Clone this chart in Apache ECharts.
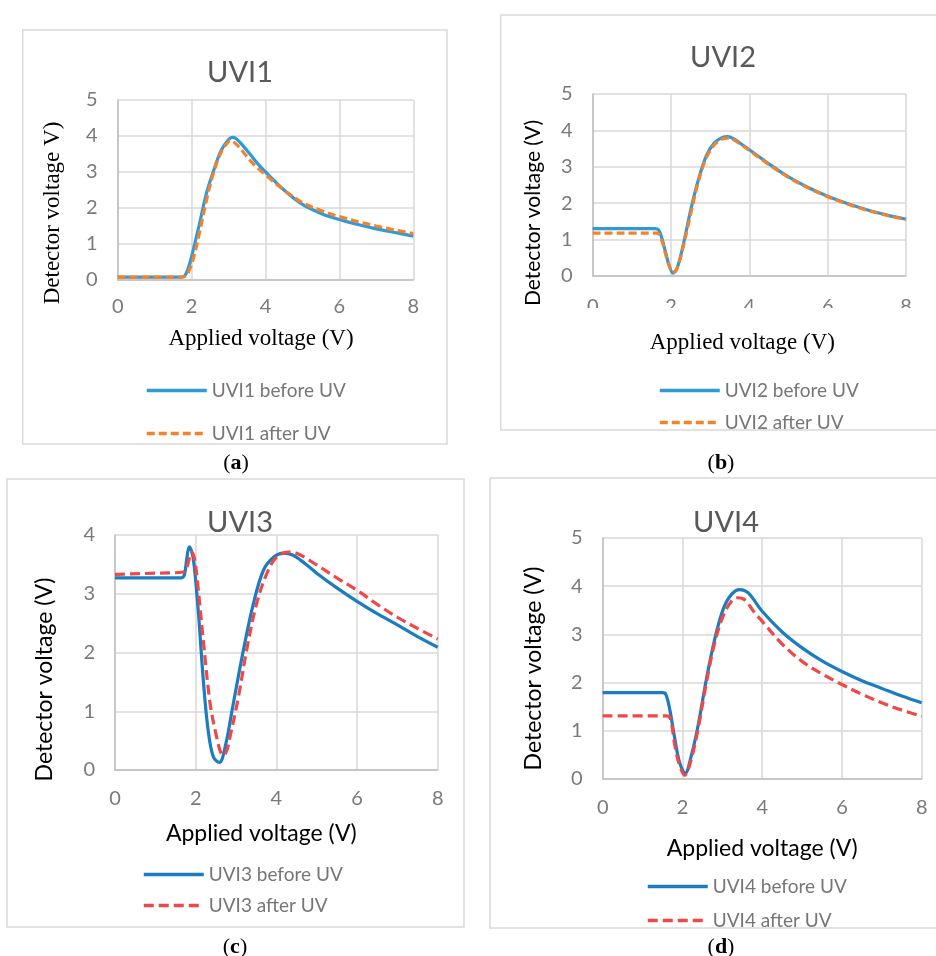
<!DOCTYPE html>
<html>
<head>
<meta charset="utf-8">
<script src="https://cdn.jsdelivr.net/npm/echarts@6/dist/echarts.min.js"></script>
<style>
  html, body { margin: 0; padding: 0; background: #fff; }
  #chart { width: 936px; height: 956px; }
</style>
</head>
<body>
<div id="chart"></div>
<script>
// x = applied voltage (V), y = detector voltage (V)
const uvi1Before = [[0,0.08],[1.7,0.08],[1.8,0.1],[1.9,0.3],[2.0,0.65],[2.2,1.5],[2.4,2.4],[2.6,3.05],[2.8,3.6],[3.0,3.9],[3.1,3.96],[3.2,3.93],[3.4,3.72],[3.6,3.47],[3.8,3.22],[4.0,3.0],[4.5,2.5],[5.0,2.1],[5.5,1.85],[6.0,1.68],[6.5,1.54],[7.0,1.42],[7.5,1.32],[8.0,1.22]];
const uvi1After = [[0,0.08],[1.75,0.08],[1.85,0.12],[1.95,0.3],[2.05,0.6],[2.2,1.25],[2.4,2.2],[2.6,3.0],[2.8,3.55],[3.0,3.85],[3.05,3.88],[3.2,3.78],[3.4,3.55],[3.6,3.3],[3.8,3.1],[4.0,2.92],[4.5,2.5],[5.0,2.15],[5.5,1.93],[6.0,1.76],[6.5,1.62],[7.0,1.5],[7.5,1.39],[8.0,1.29]];

const uvi2Before = [[0,1.3],[1.6,1.3],[1.68,1.27],[1.75,1.1],[1.85,0.7],[1.95,0.3],[2.05,0.08],[2.15,0.2],[2.3,0.8],[2.5,1.8],[2.7,2.65],[2.9,3.3],[3.1,3.65],[3.3,3.8],[3.45,3.83],[3.6,3.77],[3.8,3.62],[4.0,3.47],[4.5,3.08],[5.0,2.72],[5.5,2.43],[6.0,2.19],[6.5,1.99],[7.0,1.82],[7.5,1.68],[8.0,1.56]];
const uvi2After = [[0,1.18],[1.65,1.18],[1.72,1.1],[1.8,0.85],[1.9,0.45],[2.0,0.15],[2.05,0.1],[2.15,0.2],[2.3,0.75],[2.5,1.7],[2.7,2.6],[2.9,3.25],[3.1,3.6],[3.3,3.76],[3.45,3.79],[3.6,3.74],[3.8,3.6],[4.0,3.45],[4.5,3.06],[5.0,2.71],[5.5,2.42],[6.0,2.18],[6.5,1.98],[7.0,1.81],[7.5,1.67],[8.0,1.55]];

const uvi3Before = [[0,3.27],[1.65,3.27],[1.72,3.32],[1.78,3.6],[1.84,3.8],[1.9,3.72],[1.96,3.5],[2.07,2.66],[2.19,1.52],[2.31,0.67],[2.44,0.22],[2.59,0.13],[2.73,0.39],[2.93,1.12],[3.18,2.03],[3.43,2.83],[3.68,3.4],[3.93,3.62],[4.17,3.69],[4.4,3.66],[4.7,3.52],[5.0,3.35],[5.5,3.1],[6.0,2.87],[6.5,2.66],[7.0,2.47],[7.5,2.27],[8.0,2.09]];
const uvi3After = [[0,3.33],[1.0,3.35],[1.7,3.37],[1.78,3.45],[1.85,3.62],[1.9,3.71],[1.97,3.6],[2.04,3.23],[2.19,2.2],[2.36,1.12],[2.52,0.56],[2.62,0.3],[2.69,0.25],[2.78,0.35],[2.85,0.56],[3.06,1.24],[3.26,2.03],[3.51,2.83],[3.76,3.34],[4.0,3.62],[4.3,3.71],[4.5,3.69],[4.75,3.6],[5.0,3.49],[5.5,3.27],[6.0,3.06],[6.5,2.82],[7.0,2.6],[7.5,2.41],[8.0,2.23]];

const uvi4Before = [[0,1.79],[1.5,1.79],[1.58,1.76],[1.68,1.45],[1.81,0.83],[1.93,0.34],[2.07,0.12],[2.22,0.48],[2.39,1.1],[2.6,2.07],[2.81,2.9],[3.02,3.52],[3.23,3.83],[3.44,3.93],[3.65,3.86],[4.0,3.48],[4.5,3.05],[5.0,2.72],[5.5,2.45],[6.0,2.23],[6.5,2.04],[7.0,1.88],[7.5,1.72],[8.0,1.58]];
const uvi4After = [[0,1.31],[1.6,1.31],[1.7,1.25],[1.81,0.69],[1.93,0.28],[2.06,0.08],[2.22,0.41],[2.39,1.03],[2.6,2.0],[2.81,2.83],[3.02,3.38],[3.23,3.69],[3.39,3.76],[3.56,3.72],[3.81,3.45],[4.0,3.27],[4.5,2.8],[5.0,2.44],[5.5,2.18],[6.0,1.96],[6.5,1.76],[7.0,1.58],[7.5,1.43],[8.0,1.3]];

const panelTitles = ["UVI1", "UVI2", "UVI3", "UVI4"];
const yTitles = ["Detector voltage V)", "Detector voltage (V)", "Detector voltage (V)", "Detector voltage (V)"];
const xTitle = "Applied voltage (V)";
const captions = ["a", "b", "c", "d"];
const yMax = [5, 5, 4, 5];

const sans = "Lato, 'Open Sans', sans-serif";
const serif = "'Liberation Serif', 'DejaVu Serif', serif";

// layout of each panel
const panels = [
  { grid: { left: 117.7, top: 100, width: 295.6, height: 180 }, title: [235, 70], frame: [22.7, 30, 424.3, 414],
    xGap: 47, xPad: [0, 9, 0, 0], xFont: serif, xSize: 23, yGap: 53, yPad: [0, 46, 0, 0], yFont: serif, ySize: 23,
    tickMargin: 17, legend: [145, 381, 24], caption: [236, 463], colors: ["#2E9BD8", "#F5822A"], dash: [8, 4] },
  { grid: { left: 592.7, top: 94, width: 313.3, height: 182 }, title: [718, 55], frame: [500.7, 15, 440, 415],
    xGap: 55, xPad: [0, 14, 0, 0], xFont: serif, xSize: 23, yGap: 49, yPad: [0, 56, 0, 0], yFont: sans, ySize: 21,
    tickMargin: 21, legend: [658, 381, 13], caption: [721, 463], colors: ["#2E9BD8", "#F5822A"], dash: [8, 4] },
  { grid: { left: 115, top: 535, width: 322.7, height: 235 }, title: [235, 520], frame: [7, 479, 457, 448],
    xGap: 52, xPad: [0, 30, 0, 0], xFont: sans, xSize: 23, yGap: 59, yPad: [0, 54, 0, 0], yFont: sans, ySize: 23,
    tickMargin: 19, legend: [142, 865, 12], caption: [235, 947], colors: ["#1B7CC0", "#F04848"], dash: [10, 5] },
  { grid: { left: 602.7, top: 538, width: 319, height: 241 }, title: [721, 520], frame: [490, 478, 450, 450],
    xGap: 58, xPad: [0, 0, 0, 0], xFont: sans, xSize: 23, yGap: 58, yPad: [0, 20, 0, 0], yFont: sans, ySize: 23,
    tickMargin: 19, legend: [646, 877, 15], caption: [721, 947], colors: ["#1B7CC0", "#F04848"], dash: [10, 5] }
];

const seriesData = [[uvi1Before, uvi1After], [uvi2Before, uvi2After], [uvi3Before, uvi3After], [uvi4Before, uvi4After]];

const option = {
  animation: false,
  backgroundColor: "#fff",
  title: [], grid: [], xAxis: [], yAxis: [], legend: [], series: [], graphic: []
};

panels.forEach((p, i) => {
  option.grid.push(Object.assign({ containLabel: false }, p.grid));
  option.title.push({
    text: panelTitles[i], left: p.title[0], top: p.title[1] - 17, textAlign: "center",
    textStyle: { fontFamily: sans, fontSize: 29, fontWeight: "normal", color: "#595959" }
  });
  option.xAxis.push({
    type: "value", gridIndex: i, min: 0, max: 8, interval: 2,
    name: xTitle, nameLocation: "middle", nameGap: p.xGap,
    nameTextStyle: { fontFamily: p.xFont, fontSize: p.xSize, color: "#000", padding: p.xPad },
    axisLine: { lineStyle: { color: "#BFBFBF", width: 1.5 } },
    axisTick: { show: false },
    axisLabel: { margin: p.tickMargin, fontFamily: sans, fontSize: 20, color: "#7A7A7A" },
    splitLine: { lineStyle: { color: "#D9D9D9", width: 1.5 } }
  });
  option.yAxis.push({
    type: "value", gridIndex: i, min: 0, max: yMax[i], interval: 1,
    name: yTitles[i], nameLocation: "middle", nameGap: p.yGap, nameRotate: 90,
    nameTextStyle: { fontFamily: p.yFont, fontSize: p.ySize, color: "#000", padding: p.yPad },
    axisLine: { show: true, lineStyle: { color: "#BFBFBF", width: 1.5 } },
    axisTick: { show: false },
    axisLabel: { margin: 20, fontFamily: sans, fontSize: 20, color: "#7A7A7A" },
    splitLine: { lineStyle: { color: "#D9D9D9", width: 1.5 } }
  });
  const names = [panelTitles[i] + " before UV", panelTitles[i] + " after UV"];
  seriesData[i].forEach((d, k) => {
    option.series.push({
      name: names[k], type: "line", xAxisIndex: i, yAxisIndex: i,
      data: d, smooth: 0.35, symbol: "none", z: 3 + k,
      lineStyle: { color: p.colors[k], width: 3.2, type: k === 0 ? "solid" : p.dash, cap: "butt" },
      itemStyle: { color: p.colors[k] }
    });
  });
  option.legend.push({
    data: names, orient: "vertical", left: p.legend[0], top: p.legend[1], itemGap: p.legend[2],
    itemWidth: 60, itemHeight: 14, padding: 0,
    itemStyle: { opacity: 0 },
    lineStyle: { width: 3.5 },
    textStyle: { fontFamily: sans, fontSize: 19, color: "#767676" }
  });
  option.graphic.push({
    type: "rect", silent: true, z: -1,
    shape: { x: p.frame[0], y: p.frame[1], width: p.frame[2], height: p.frame[3] },
    style: { fill: null, stroke: "#D9D9D9", lineWidth: 1.5 }
  });
  option.graphic.push({
    type: "text", silent: true, x: p.caption[0], y: p.caption[1],
    style: {
      text: "{n|(}{b|" + captions[i] + "}{n|)}", align: "center", verticalAlign: "middle",
      rich: {
        n: { fontFamily: serif, fontSize: 22, fill: "#000" },
        b: { fontFamily: serif, fontSize: 22, fontWeight: "bold", fill: "#000" }
      }
    }
  });
});

// the x tick labels of panel (b) are cut off at the bottom in the original
option.graphic.push({
  type: "rect", silent: true, z: 100,
  shape: { x: 580, y: 308, width: 340, height: 14 },
  style: { fill: "#fff" }
});

const chart = echarts.init(document.getElementById("chart"));
chart.setOption(option);
</script>
</body>
</html>
